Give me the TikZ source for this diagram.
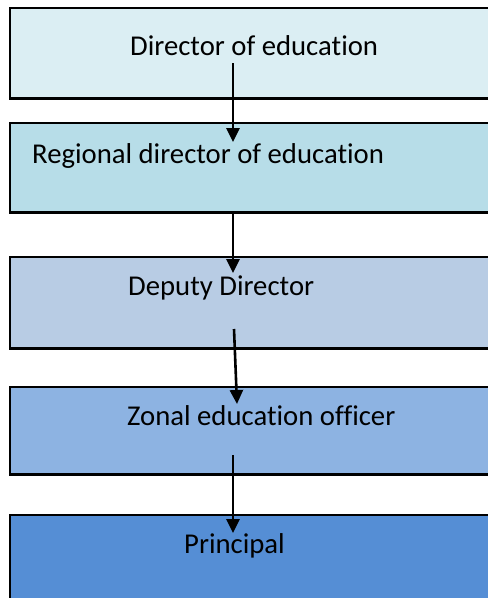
\documentclass[tikz,border=0pt]{standalone}
\usepackage{fontspec}
\setmainfont{Carlito}[Ligatures=NoCommon]
\usetikzlibrary{arrows.meta}

\definecolor{levelA}{HTML}{DBEEF3}
\definecolor{levelB}{HTML}{B7DDE8}
\definecolor{levelC}{HTML}{B8CCE4}
\definecolor{levelD}{HTML}{8DB3E2}
\definecolor{levelE}{HTML}{558ED5}

\tikzset{
	rankbox/.style={rectangle, anchor=north west, minimum width=600pt, inner sep=0pt},
	rankedge/.style={draw=black, line width=2.2pt},
	ranklabel/.style={anchor=base west, inner sep=0pt, text=black,
		font=\fontsize{28.7}{34}\selectfont},
	downarrow/.style={line width=2.6pt, -{Triangle[length=14pt,width=13pt]}}
}

\begin{document}
\begin{tikzpicture}[x=1pt, y=-1pt]
		%%%%% START %%%%%
		\useasboundingbox (0, 0) rectangle (488, 598);
		\clip (0, 0) rectangle (488, 598);
		\fill[white] (0, 0) rectangle (488, 598);
		
		\node[rankbox, fill=levelA, minimum height=90pt] (director) at (10, 8) {};
		\node[rankbox, fill=levelB, minimum height=89pt] (regional) at (10, 123) {};
		\node[rankbox, fill=levelC, minimum height=91pt] (deputy) at (10, 257) {};
		\node[rankbox, fill=levelD, minimum height=87pt] (zonal) at (10, 387) {};
		\node[rankbox, fill=levelE, minimum height=110pt] (principal) at (10, 515) {};
		
		% boxes run off the right side, so only three edges are stroked
		\foreach \b in {director, regional, deputy, zonal, principal}
			\draw[rankedge] (\b.north east) -- (\b.north west) -- (\b.south west) -- (\b.south east);
		
		\node[ranklabel] (directortext) at (130, 55) {Director of education};
		\node[ranklabel] (regionaltext) at (32, 163) {Regional director of education};
		\node[ranklabel] (deputytext) at (128, 295) {Deputy Director};
		\node[ranklabel] (zonaltext) at (127, 425) {Zonal education officer};
		\node[ranklabel] (principaltext) at (184, 553) {Principal};
		
		\coordinate (from1) at (233, 63);
		\coordinate (to1) at (233, 142);
		\coordinate (from2) at (233, 212);
		\coordinate (to2) at (233, 273);
		\coordinate (from3) at (234, 329);
		\coordinate (to3) at (237, 404);
		\coordinate (from4) at (233, 455);
		\coordinate (to4) at (233, 533);
		
		\draw[downarrow] (from1) -- (to1);
		\draw[downarrow] (from2) -- (to2);
		\draw[downarrow] (from3) -- (to3);
		\draw[downarrow] (from4) -- (to4);
		
		%%%%% END %%%%%
	\end{tikzpicture}
\end{document}
